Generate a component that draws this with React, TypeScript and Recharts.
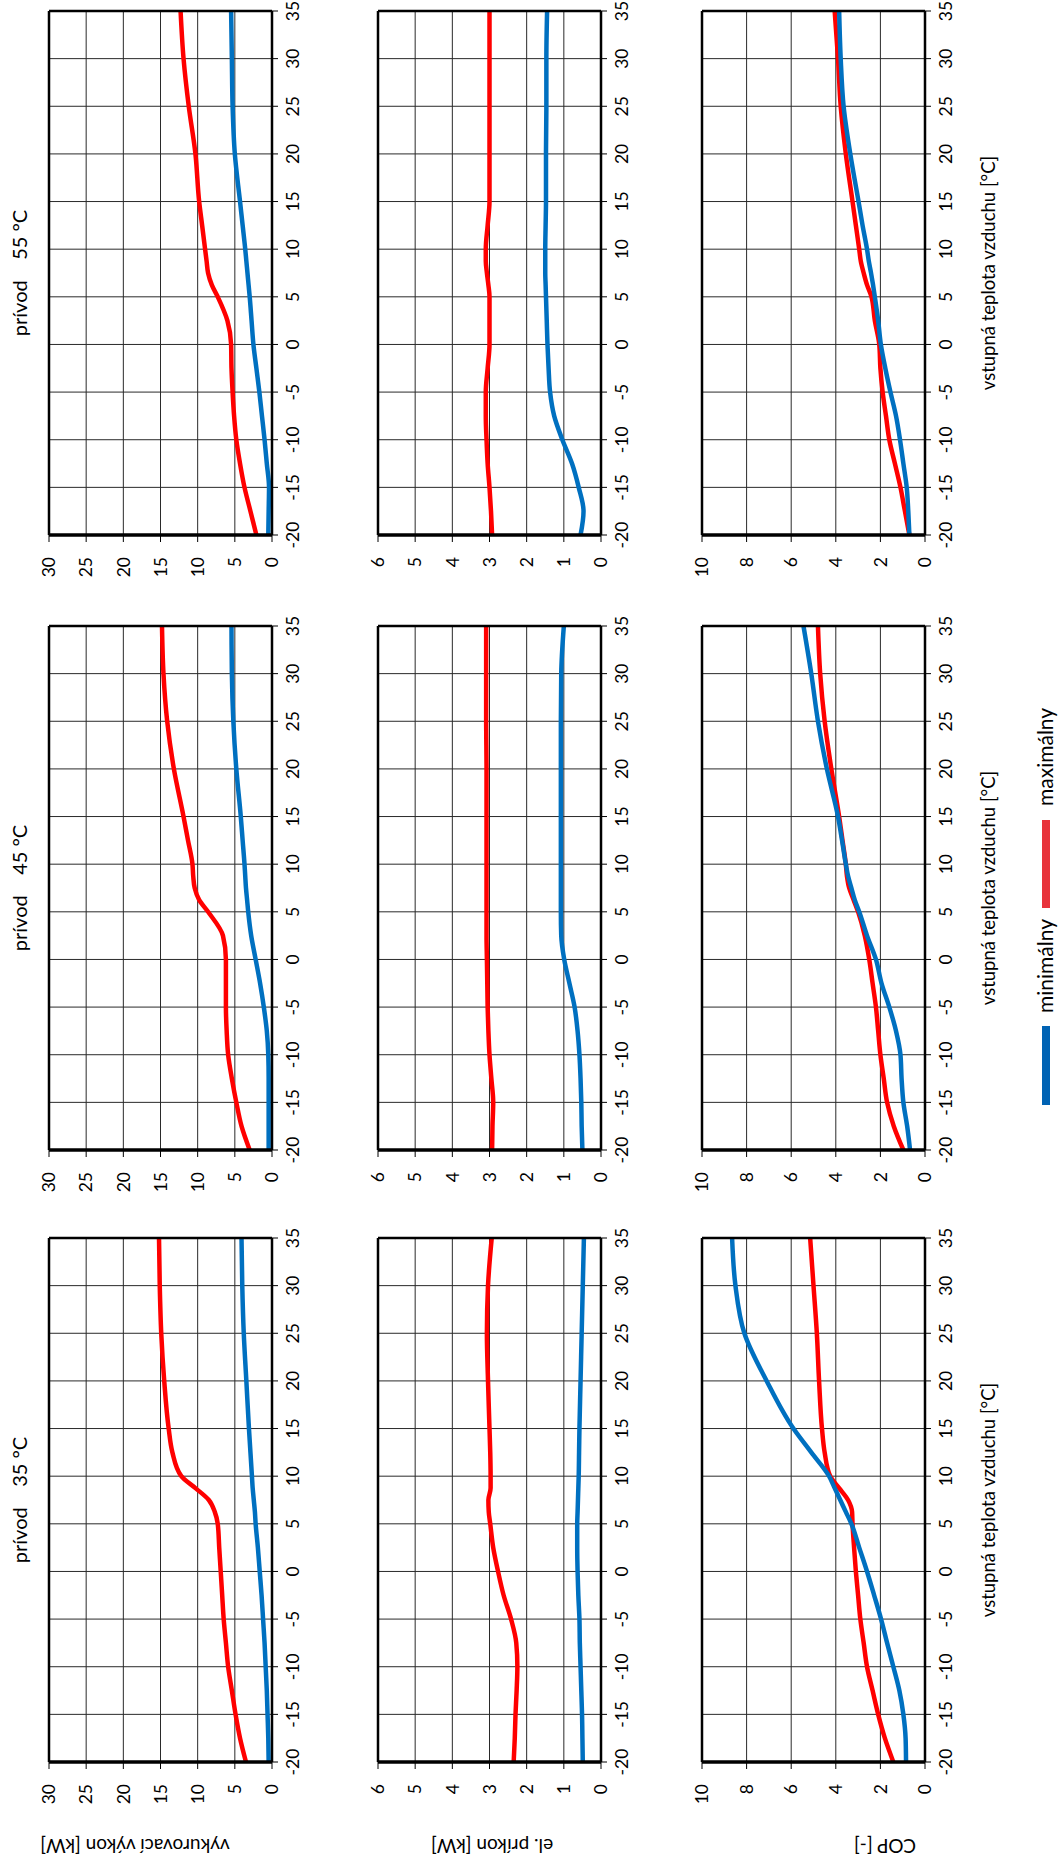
import React from "react";
import { LineChart, Line, XAxis, YAxis, CartesianGrid } from "recharts";

// outdoor air temperature points (°C) shared by every curve
const TEMP = [-20, -17.5, -15, -12.5, -10, -7.5, -5, -2.5, 0, 2.5, 5, 6.25, 7.5, 8.75, 10, 12.5, 15, 20, 25, 30, 35];
const X_TICKS = [-20, -15, -10, -5, 0, 5, 10, 15, 20, 25, 30, 35];

// heating output [kW]
const VYKON_35_MAX = [3.5, 4.3, 4.9, 5.4, 5.9, 6.2, 6.5, 6.7, 6.9, 7.1, 7.3, 7.7, 8.5, 10.3, 12.2, 13.4, 13.9, 14.5, 14.9, 15.1, 15.2];
const VYKON_35_MIN = [0.45, 0.5, 0.6, 0.7, 0.85, 1.0, 1.2, 1.4, 1.65, 1.9, 2.2, 2.3, 2.45, 2.6, 2.7, 2.9, 3.1, 3.45, 3.8, 4.0, 4.1];
const VYKON_45_MAX = [3.0, 4.1, 4.8, 5.4, 5.9, 6.1, 6.2, 6.2, 6.2, 6.6, 8.6, 9.8, 10.4, 10.6, 10.7, 11.3, 11.9, 13.2, 14.1, 14.6, 14.8];
const VYKON_45_MIN = [0.45, 0.45, 0.45, 0.45, 0.5, 0.7, 1.1, 1.6, 2.2, 2.8, 3.2, 3.35, 3.5, 3.6, 3.7, 3.95, 4.2, 4.8, 5.2, 5.4, 5.45];
const VYKON_55_MAX = [2.1, 2.9, 3.7, 4.3, 4.8, 5.1, 5.3, 5.45, 5.5, 6.0, 7.3, 8.1, 8.6, 8.8, 9.0, 9.4, 9.8, 10.3, 11.2, 11.9, 12.3];
const VYKON_55_MIN = [0.5, 0.45, 0.4, 0.7, 1.0, 1.35, 1.7, 2.1, 2.5, 2.75, 3.0, 3.15, 3.3, 3.45, 3.6, 3.95, 4.3, 5.0, 5.3, 5.4, 5.5];

// electric input [kW]
const PRIKON_35_MAX = [2.35, 2.32, 2.3, 2.27, 2.25, 2.28, 2.42, 2.62, 2.77, 2.9, 2.98, 3.02, 3.03, 2.97, 2.97, 2.98, 3.0, 3.04, 3.07, 3.04, 2.94];
const PRIKON_35_MIN = [0.49, 0.5, 0.51, 0.53, 0.55, 0.57, 0.58, 0.61, 0.63, 0.64, 0.64, 0.63, 0.62, 0.61, 0.6, 0.59, 0.58, 0.55, 0.52, 0.49, 0.46];
const PRIKON_45_MAX = [2.93, 2.92, 2.9, 2.95, 3.0, 3.03, 3.05, 3.06, 3.07, 3.08, 3.08, 3.08, 3.08, 3.08, 3.08, 3.08, 3.08, 3.08, 3.09, 3.09, 3.09];
const PRIKON_45_MIN = [0.5, 0.52, 0.53, 0.55, 0.58, 0.63, 0.71, 0.85, 0.99, 1.07, 1.08, 1.08, 1.08, 1.08, 1.08, 1.08, 1.08, 1.08, 1.08, 1.07, 1.0];
const PRIKON_55_MAX = [2.93, 2.96, 3.0, 3.05, 3.08, 3.1, 3.1, 3.05, 3.0, 3.0, 3.0, 3.03, 3.07, 3.1, 3.1, 3.05, 3.0, 3.0, 3.0, 3.0, 3.0];
const PRIKON_55_MIN = [0.55, 0.47, 0.6, 0.78, 1.04, 1.26, 1.37, 1.41, 1.44, 1.46, 1.48, 1.49, 1.5, 1.5, 1.5, 1.49, 1.48, 1.48, 1.47, 1.47, 1.45];

// COP [-]
const COP_35_MAX = [1.42, 1.8, 2.1, 2.35, 2.6, 2.75, 2.9, 3.0, 3.1, 3.18, 3.25, 3.27, 3.45, 3.85, 4.25, 4.5, 4.62, 4.75, 4.85, 5.0, 5.15];
const COP_35_MIN = [0.85, 0.87, 0.97, 1.15, 1.42, 1.7, 1.97, 2.28, 2.6, 2.95, 3.3, 3.55, 3.8, 4.05, 4.3, 5.1, 5.9, 7.1, 8.1, 8.5, 8.65];
const COP_45_MAX = [0.97, 1.4, 1.7, 1.85, 2.0, 2.1, 2.2, 2.35, 2.5, 2.7, 3.0, 3.2, 3.4, 3.5, 3.55, 3.7, 3.85, 4.2, 4.5, 4.7, 4.8];
const COP_45_MIN = [0.67, 0.8, 0.97, 1.05, 1.1, 1.3, 1.6, 1.95, 2.2, 2.6, 2.95, 3.15, 3.3, 3.45, 3.55, 3.72, 3.9, 4.4, 4.8, 5.1, 5.45];
const COP_55_MAX = [0.7, 0.9, 1.1, 1.35, 1.6, 1.75, 1.9, 2.0, 2.05, 2.25, 2.4, 2.6, 2.75, 2.88, 2.95, 3.1, 3.25, 3.55, 3.78, 3.9, 4.05];
const COP_55_MIN = [0.7, 0.75, 0.82, 0.97, 1.12, 1.3, 1.55, 1.78, 1.98, 2.1, 2.25, 2.33, 2.42, 2.52, 2.6, 2.8, 2.98, 3.35, 3.65, 3.78, 3.85];

const VYKON_TICKS = [0, 5, 10, 15, 20, 25, 30];
const PRIKON_TICKS = [0, 1, 2, 3, 4, 5, 6];
const COP_TICKS = [0, 2, 4, 6, 8, 10];

const SUPPLY = ["35", "45", "55"];

const RED = "#ff0000";
const BLUE = "#0070c0";
const FONT = "Lato, 'Liberation Sans', sans-serif";

// plot-area geometry of the landscape page (before it is turned)
const COL_X = [101, 713, 1328];
const ROW_Y = [49, 378, 702];
const PW = 524;
const PH = 223;
const YW = 60;
const MT = 9; // + 1px top frame axis
const MR = 14; // + 1px right frame axis

const build = (max: number[], min: number[]) =>
  TEMP.map((t, i) => ({ t, max: max[i], min: min[i] }));

interface PanelProps {
  col: number;
  row: number;
  max: number[];
  min: number[];
  ticks: number[];
  xTitle?: boolean;
}

const Panel = ({ col, row, max, min, ticks, xTitle }: PanelProps) => {
  const xh = xTitle ? 84 : 40;
  const top = ticks[ticks.length - 1];
  return (
    <div style={{ position: "absolute", left: COL_X[col] - YW, top: ROW_Y[row] - MT - 1 }}>
      <LineChart
        width={YW + PW + MR + 1}
        height={MT + 1 + PH + xh}
        data={build(max, min)}
        margin={{ top: MT, right: MR, bottom: 0, left: 0 }}
      >
        <CartesianGrid stroke="#2a2a2a" strokeWidth={1} />
        <XAxis
          dataKey="t"
          type="number"
          domain={[-20, 35]}
          ticks={X_TICKS}
          interval={0}
          height={xh}
          axisLine={{ stroke: "#000", strokeWidth: 2.5 }}
          tickLine={{ stroke: "#000" }}
          tickSize={6}
          tickMargin={9}
          tick={{ fill: "#000", fontSize: 17.5 }}
          label={
            xTitle
              ? {
                  value: "vstupná teplota vzduchu [°C]",
                  position: "insideBottom",
                  offset: 14,
                  fill: "#000",
                  fontSize: 18.5,
                }
              : undefined
          }
        />
        {/* top and right edges of the frame */}
        <XAxis
          xAxisId="frame"
          dataKey="t"
          type="number"
          domain={[-20, 35]}
          orientation="top"
          height={1}
          tick={false}
          tickLine={false}
          axisLine={{ stroke: "#000", strokeWidth: 2.5 }}
        />
        <YAxis
          yAxisId="frame"
          type="number"
          domain={[0, top]}
          orientation="right"
          width={1}
          tick={false}
          tickLine={false}
          axisLine={{ stroke: "#000", strokeWidth: 2.5 }}
        />
        <YAxis
          type="number"
          domain={[0, top]}
          ticks={ticks}
          interval={0}
          width={YW}
          axisLine={{ stroke: "#000", strokeWidth: 3.5 }}
          tickLine={{ stroke: "#000" }}
          tickSize={7}
          tickMargin={15}
          tick={{ fill: "#000", fontSize: 17.5 }}
        />
        <Line
          type="monotone"
          dataKey="max"
          stroke={RED}
          strokeWidth={4.5}
          dot={false}
          isAnimationActive={false}
        />
        <Line
          type="monotone"
          dataKey="min"
          stroke={BLUE}
          strokeWidth={4.5}
          dot={false}
          isAnimationActive={false}
        />
      </LineChart>
    </div>
  );
};

const rotatedTitle = (text: string, cy: number) => (
  <div
    key={text}
    style={{
      position: "absolute",
      left: 16.5,
      top: cy,
      transform: "translate(-50%, -50%) rotate(-90deg)",
      whiteSpace: "nowrap",
      fontSize: 19,
    }}
  >
    {text}
  </div>
);

const App = () => {
  const rows = [
    { max: [VYKON_35_MAX, VYKON_45_MAX, VYKON_55_MAX], min: [VYKON_35_MIN, VYKON_45_MIN, VYKON_55_MIN], ticks: VYKON_TICKS },
    { max: [PRIKON_35_MAX, PRIKON_45_MAX, PRIKON_55_MAX], min: [PRIKON_35_MIN, PRIKON_45_MIN, PRIKON_55_MIN], ticks: PRIKON_TICKS },
    { max: [COP_35_MAX, COP_45_MAX, COP_55_MAX], min: [COP_35_MIN, COP_45_MIN, COP_55_MIN], ticks: COP_TICKS },
  ];

  return (
    <>
      <style>{"body{margin:0;overflow:hidden}"}</style>
      <div
        style={{
          position: "absolute",
          left: 0,
          top: 0,
          width: 1863,
          height: 1061,
          background: "#fff",
          fontFamily: FONT,
          color: "#000",
          transformOrigin: "0 0",
          transform: "translateY(1863px) rotate(-90deg)",
        }}
      >
        {SUPPLY.map((s, c) => (
          <div
            key={s}
            style={{
              position: "absolute",
              left: COL_X[c],
              width: PW,
              top: 9,
              textAlign: "center",
              fontSize: 20,
              lineHeight: "20px",
              whiteSpace: "pre",
            }}
          >
            {`prívod    ${s} °C`}
          </div>
        ))}

        {rows.map((r, ri) =>
          [0, 1, 2].map((c) => (
            <Panel
              key={`${ri}-${c}`}
              col={c}
              row={ri}
              max={r.max[c]}
              min={r.min[c]}
              ticks={r.ticks}
              xTitle={ri === 2}
            />
          ))
        )}

        {rotatedTitle("vykurovací výkon [kW]", 135)}
        {rotatedTitle("el. príkon [kW]", 492)}
        {rotatedTitle("COP [-]", 885)}

        <div style={{ position: "absolute", left: 758, top: 1042, width: 79, height: 8, background: "#0063b4" }} />
        <div style={{ position: "absolute", left: 850, top: 1033, fontSize: 21, lineHeight: "24px" }}>minimálny</div>
        <div style={{ position: "absolute", left: 955, top: 1042, width: 88, height: 8, background: "#e8333b" }} />
        <div style={{ position: "absolute", left: 1057, top: 1033, fontSize: 21, lineHeight: "24px" }}>maximálny</div>
      </div>
    </>
  );
};

export default App;
